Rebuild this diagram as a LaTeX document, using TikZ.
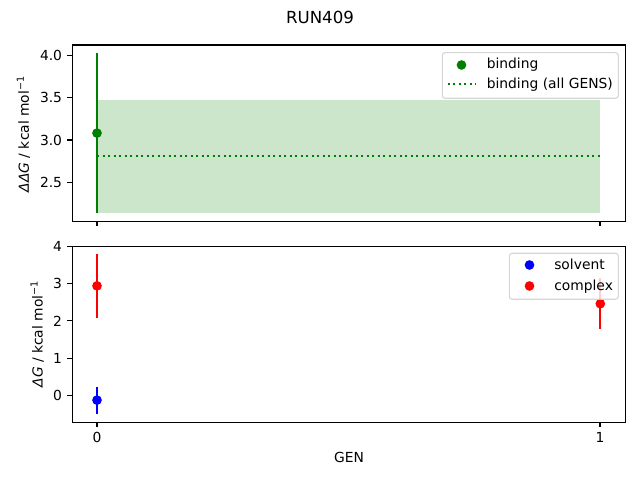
\documentclass[tikz,border=0pt]{standalone}
\usepackage{fontspec}
\setmainfont{DejaVu Sans}
\usetikzlibrary{positioning}
\definecolor{mplgreen}{RGB}{0, 128, 0}
\definecolor{mplblue}{RGB}{0, 0, 255}
\definecolor{mplred}{RGB}{255, 0, 0}
\definecolor{bandgreen}{RGB}{204, 230, 204}
\definecolor{legframe}{RGB}{204, 204, 204}

\tikzset{
  frame/.style={draw=black, line width=0.8pt},
  tickmark/.style={line width=0.8pt},
  errbar/.style={line width=1.5pt},
  dot/.style={circle, inner sep=0pt, minimum size=7pt},
  ticklabel/.style={font=\fontsize{10}{12}\selectfont, inner sep=0pt},
  axlabel/.style={font=\fontsize{10}{12}\selectfont, inner sep=0pt},
  legtext/.style={font=\fontsize{10}{12}\selectfont, inner sep=0pt, anchor=base west},
  legbox/.style={draw=legframe, fill=white, opacity=0.8, rounded corners=2pt, line width=0.8pt},
  allgens/.style={mplgreen, line width=1.5pt, dash pattern=on 1.5pt off 2.475pt}
}

\begin{document}
\begin{tikzpicture}[x=0.01in, y=-0.01in]
  \useasboundingbox (0,0) rectangle (640,480);

  % Title
  \node[font=\fontsize{12}{14}\selectfont, inner sep=0pt] (title) at (320,17) {RUN409};

  % Top panel: binding
  \begin{scope}[shift={(97,393.8)}, x={(5.03in,0)}, y={(0,0.846in)}]
    \fill[bandgreen] (0,2.14) rectangle (1,3.47);
    \draw[allgens] (0,2.81) -- (1,2.81);
    \draw[errbar, mplgreen] (0,2.14) -- (0,4.025);
    \node[dot, fill=mplgreen] (bindpt) at (0,3.08) {};
  \end{scope}

  % Bottom panel: solvent and complex
  \begin{scope}[shift={(97,395.3)}, x={(5.03in,0)}, y={(0,0.372in)}]
    \draw[errbar, mplblue] (0,-0.49) -- (0,0.22);
    \node[dot, fill=mplblue] (solvpt) at (0,-0.13) {};
    \draw[errbar, mplred] (0,2.07) -- (0,3.80);
    \node[dot, fill=mplred] (cplxpta) at (0,2.94) {};
    \draw[errbar, mplred] (1,1.78) -- (1,3.15);
    \node[dot, fill=mplred] (cplxptb) at (1,2.46) {};
  \end{scope}

  % Axes frames
  \draw[frame] (72.3,45) rectangle (625.7,221.3);
  \draw[frame] (72.3,246.7) rectangle (625.7,422.3);

  % Ticks
  \foreach \v/\lab [count=\i] in {2.5/2.5, 3/3.0, 3.5/3.5, 4/4.0} {
    \pgfmathsetmacro\py{140-84.6*(\v-3)}
    \draw[tickmark] (72.3,\py) -- ++(-3.5pt,0pt) node[ticklabel, left=3.5pt] (yta\i) {\lab};
  }
  \foreach \v [count=\i] in {0,...,4} {
    \pgfmathsetmacro\py{395.3-37.2*\v}
    \draw[tickmark] (72.3,\py) -- ++(-3.5pt,0pt) node[ticklabel, left=3.5pt] (ytb\i) {\v};
  }
  \foreach \g [count=\i] in {0,1} {
    \pgfmathsetmacro\px{97+503*\g}
    \draw[tickmark] (\px,221.3) -- ++(0pt,-3.5pt);
    \draw[tickmark] (\px,422.3) -- ++(0pt,-3.5pt) node[ticklabel, below=3.5pt] (xt\i) {\g};
  }

  % Axis labels
  \node[axlabel] (xlab) at (349,457.5) {GEN};
  \node[axlabel, rotate=90] (ylabtop) at (23.5,134) {{\itshape ΔΔG} / kcal mol\textsuperscript{−1}};
  \node[axlabel, rotate=90] (ylabbot) at (37.3,334) {{\itshape ΔG} / kcal mol\textsuperscript{−1}};

  % Legend, top
  \draw[legbox] (442.3,52.7) rectangle (618.3,98.3);
  \node[dot, fill=mplgreen] (legbind) at (461.5,65) {};
  \node[legtext] (legbindtxt) at (486.5,68.5) {binding};
  \coordinate (allA) at (447.5,84.3);
  \coordinate (allB) at (475.5,84.3);
  \draw[allgens] (allA) -- (allB);
  \node[legtext] (legalltxt) at (486.5,88.5) {binding (all GENS)};

  % Legend, bottom
  \draw[legbox] (509.3,253.3) rectangle (618.3,299.3);
  \node[dot, fill=mplblue] (legsolv) at (529.5,265) {};
  \node[legtext] (legsolvtxt) at (554,269.3) {solvent};
  \node[dot, fill=mplred] (legcplx) at (529.5,286) {};
  \node[legtext] (legcplxtxt) at (554,290.3) {complex};
\end{tikzpicture}
\end{document}
